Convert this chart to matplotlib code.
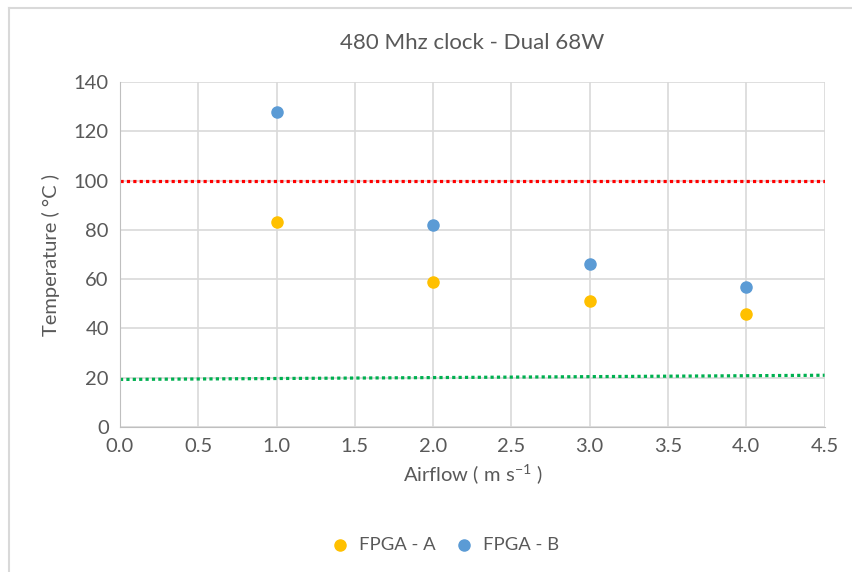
import matplotlib.pyplot as plt
from matplotlib.lines import Line2D

plt.rcParams['font.family'] = ['Lato', 'DejaVu Sans']
plt.rcParams['mathtext.default'] = 'regular'

# Dane
airflow = [1.0, 2.0, 3.0, 4.0]
fpga_a = [83, 59, 51, 46]
fpga_b = [128, 82, 66, 57]
limit_x = [0.0, 4.5]
limit_red = [100, 100]
ambient_green = [19.3, 21.0]

xticks = [0.0, 0.5, 1.0, 1.5, 2.0, 2.5, 3.0, 3.5, 4.0, 4.5]
yticks = [0, 20, 40, 60, 80, 100, 120, 140]

txt = '#595959'
grid = '#d9d9d9'

fig = plt.figure(figsize=(8.52, 5.72), dpi=100)
ax = fig.add_axes([0.1408, 0.2535, 0.827, 0.6031])

ax.plot(limit_x, limit_red, color='#ff0000', lw=2.3, ls=(0, (1, 1)), zorder=2)
ax.plot(limit_x, ambient_green, color='#00b050', lw=2.3, ls=(0, (1, 1)), zorder=2)
ax.scatter(airflow, fpga_a, s=64, color='#ffc000', label='FPGA - A', zorder=3)
ax.scatter(airflow, fpga_b, s=64, color='#5b9bd5', label='FPGA - B', zorder=3)

ax.set_xlim(0, 4.5)
ax.set_ylim(0, 140)
ax.set_xticks(xticks)
ax.set_xticklabels([f'{v:.1f}' for v in xticks])
ax.set_yticks(yticks)
ax.grid(True, color=grid, lw=1.2)
ax.set_axisbelow(True)
for s in ['top', 'right']:
    ax.spines[s].set_visible(False)
for s in ['left', 'bottom']:
    ax.spines[s].set_color('#bfbfbf')
ax.tick_params(length=0, labelsize=14.5, colors=txt, pad=8)

ax.set_title('480 Mhz clock - Dual 68W', fontsize=16, color=txt, pad=24)
ax.set_xlabel('Airflow ( m s$^{-1}$ )', fontsize=14.5, color=txt, labelpad=5)
ax.set_ylabel('Temperature ( °C )', fontsize=14.5, color=txt, labelpad=10)

ax.legend(loc='center', bbox_to_anchor=(0.517, 0.047), bbox_transform=fig.transFigure,
          ncol=2, frameon=False, fontsize=13.3, labelcolor=txt, handletextpad=0.05,
          columnspacing=0.5, markerscale=1.0)

# ramka wykresu (górna i lewa krawędź)
fig.add_artist(Line2D([0.0105, 1.0], [0.986, 0.986], color='#d9d9d9', lw=1.5))
fig.add_artist(Line2D([0.0105, 0.0105], [0.0, 0.986], color='#d9d9d9', lw=1.5))

plt.savefig('out.png')
plt.close()
